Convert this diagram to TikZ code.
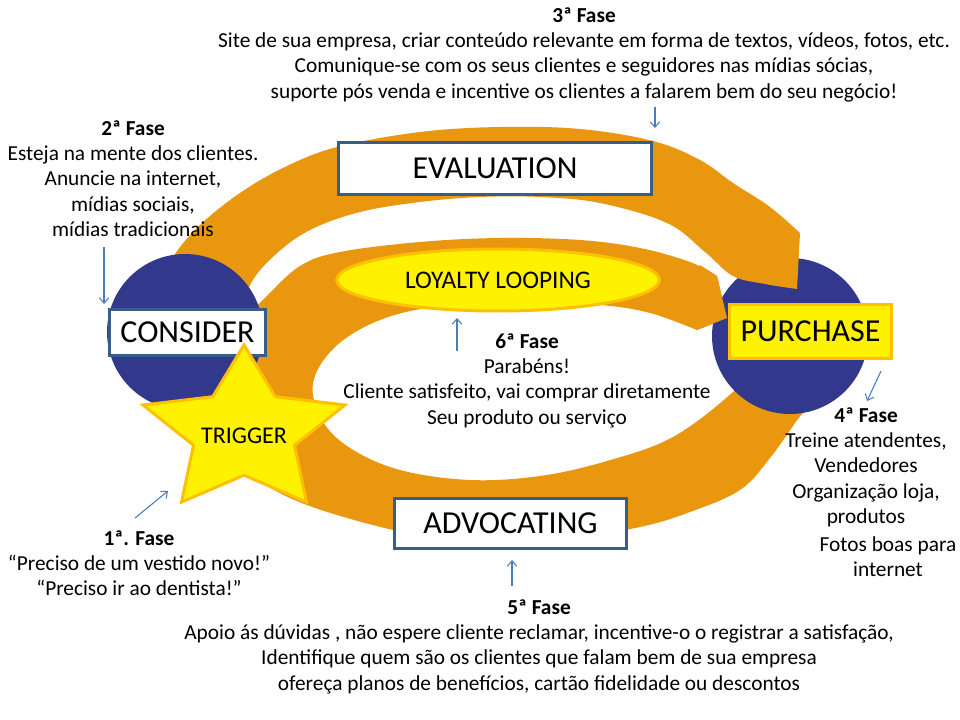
\documentclass[tikz,border=0pt]{standalone}
\usepackage{fontspec}
\setmainfont{Carlito}
\usetikzlibrary{shapes.geometric, arrows.meta, positioning}

\begin{document}
\begin{tikzpicture}[x=0.75pt, y=-0.75pt, >={Straight Barb[length=4pt, width=7pt]},
  stage/.style={draw=boxblue, line width=2.25pt, fill=white, rectangle, inner sep=0pt, font=\fontsize{24}{28}\selectfont},
  hub/.style={circle, fill=hubblue, inner sep=0pt, minimum size=117pt},
  band/.style={fill=bandorange},
  phase/.style={align=center, anchor=north, inner sep=0pt, font=\fontsize{16}{19}\selectfont},
  hint/.style={->, draw=hintblue, line width=0.8pt}]
  \definecolor{boxblue}{HTML}{385D8A}
  \definecolor{hubblue}{RGB}{50,57,140}
  \definecolor{bandorange}{RGB}{233,151,14}
  \definecolor{hintblue}{HTML}{4A7EBB}
  \definecolor{gold}{HTML}{FFC000}

  \fill[white] (0,0) rectangle (960,720);
  \useasboundingbox (0,0) rectangle (960,720);

  % inner loop: from purchase, round the bottom and back over the top
  \fill[band] (825,380) -- (810,405)
    -- plot[smooth, tension=0.6] coordinates {(797,420) (770,458) (740,490) (690,512) (640,527) (560,540) (470,543) (393,530) (307,505) (255,478) (222,445) (212,405) (222,360) (243,322) (265,298) (300,266) (340,252) (420,242) (500,238) (580,240) (640,248) (690,262) (717,276)}
    -- (727,318) -- (697,330)
    -- plot[smooth, tension=0.6] coordinates {(697,330) (650,313) (600,305) (520,302) (440,306) (380,320) (335,347) (313,383) (322,420) (350,448) (400,470) (470,480) (540,476) (607,461) (673,437) (733,392) (760,360)}
    -- cycle;

  \node[hub] (buy) at (790,336) {};
  % arrow head of the inner loop lies over the circle
  \fill[band] (700,265) -- (717,276) -- (727,318) -- (697,330) -- cycle;

  % outer loop: consider -> evaluation -> purchase
  \fill[band] plot[smooth, tension=0.6] coordinates {(150,330) (158,290) (173,257) (200,225) (240,193) (285,167) (337,147) (420,132) (500,127) (580,129) (653,141) (700,160) (733,183) (770,207) (800,233)}
    -- (797,289)
    -- plot[smooth, tension=0.6] coordinates {(797,289) (765,284) (733,276) (705,252) (667,223) (600,203) (540,197) (480,197) (420,202) (360,212) (310,230) (275,255) (250,285) (235,330)}
    -- cycle;

  \node[hub] (think) at (185,332) {};

  % Stages
  \node[ellipse, draw=gold, line width=2.25pt, fill=yellow, minimum width=242pt, minimum height=46.5pt, inner sep=0pt, font=\fontsize{19}{22}\selectfont] (loyal) at (498,280) {LOYALTY LOOPING};
  \node[stage, minimum width=235pt, minimum height=39pt] (eval) at (495,168.5) {EVALUATION};
  \node[stage, minimum width=117pt, minimum height=34.5pt] (cons) at (187.5,332.5) {CONSIDER};
  \node[stage, minimum width=174pt, minimum height=37.5pt] (advo) at (510.5,523.5) {ADVOCATING};
  \node[stage, draw=gold, fill=yellow, minimum width=121.5pt, minimum height=40.5pt] (purch) at (810.5,331.5) {PURCHASE};

  \draw[draw=gold, fill=yellow, line width=2.25pt, line join=miter]
    (244,345) -- (275.2,396.7) -- (345,405) -- (294.5,445.2) -- (306.4,502) -- (244,475.2)
    -- (181.6,502) -- (193.5,445.2) -- (143,405) -- (212.8,396.7) -- cycle;
  \node[font=\fontsize{18}{22}\selectfont, inner sep=0pt] (trig) at (244,436) {TRIGGER};

  % Phase texts
  \node[phase] (f1) at (139,530) {\textbf{1ª. Fase}\\“Preciso de um vestido novo!”\\“Preciso ir ao dentista!”};
  \node[phase] (f2) at (133,120) {\textbf{2ª Fase}\\Esteja na mente dos clientes.\\Anuncie na internet,\\mídias sociais,\\mídias tradicionais};
  \node[phase] (f3) at (584,7) {\textbf{3ª Fase}\\Site de sua empresa, criar conteúdo relevante em forma de textos, vídeos, fotos, etc.\\Comunique-se com os seus clientes e seguidores nas mídias sócias,\\suporte pós venda e incentive os clientes a falarem bem do seu negócio!};
  \node[phase] (f4) at (866,407) {\textbf{4ª Fase}\\Treine atendentes,\\Vendedores\\Organização loja,\\produtos};
  \node[phase] (f4b) at (888,536) {Fotos boas para\\internet};
  \node[phase] (f5) at (539,599) {\textbf{5ª Fase}\\Apoio ás dúvidas , não espere cliente reclamar, incentive-o o registrar a satisfação,\\Identifique quem são os clientes que falam bem de sua empresa\\ofereça planos de benefícios, cartão fidelidade ou descontos};
  \node[phase] (f6) at (527,333) {\textbf{6ª Fase}\\Parabéns!\\Cliente satisfeito, vai comprar diretamente\\Seu produto ou serviço};

  % Arrows
  \coordinate (h1s) at (135,518);  \coordinate (h1e) at (168,491);
  \coordinate (h2s) at (104,247);  \coordinate (h2e) at (104,304);
  \coordinate (h3s) at (655,107);  \coordinate (h3e) at (655,128);
  \coordinate (h4s) at (881,371);  \coordinate (h4e) at (867,401);
  \coordinate (h5s) at (512,586);  \coordinate (h5e) at (512,560);
  \coordinate (h6s) at (457,351);  \coordinate (h6e) at (457,318);
  \draw[hint] (h1s) -- (h1e);
  \draw[hint] (h2s) -- (h2e);
  \draw[hint] (h3s) -- (h3e);
  \draw[hint] (h4s) -- (h4e);
  \draw[hint] (h5s) -- (h5e);
  \draw[hint] (h6s) -- (h6e);
\end{tikzpicture}
\end{document}
